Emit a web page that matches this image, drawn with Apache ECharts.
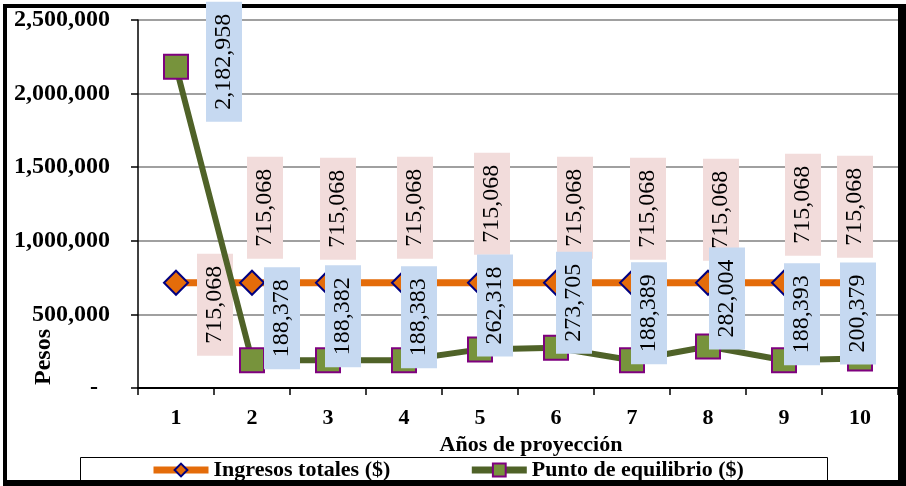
<!DOCTYPE html>
<html>
<head>
<meta charset="utf-8">
<script src="https://cdn.jsdelivr.net/npm/echarts@6/dist/echarts.min.js"></script>
<style>
  html, body { margin: 0; padding: 0; background: #fff; }
  #chart { width: 906px; height: 486px; }
</style>
</head>
<body>
<div id="chart"></div>
<script>
// Años de proyección
const years = ['1', '2', '3', '4', '5', '6', '7', '8', '9', '10'];
// Ingresos totales ($)
const ingresosTotales = [715068, 715068, 715068, 715068, 715068, 715068, 715068, 715068, 715068, 715068];
// Punto de equilibrio ($)
const puntoEquilibrio = [2182958, 188378, 188382, 188383, 262318, 273705, 188389, 282004, 188393, 200379];

// Hand-placed data label nudges, in screen pixels from each point [right, down]
const ingresosLabelShift = [[39, 22], [13, -75], [10, -74], [11, -75], [12, -79], [19, -75], [16, -74], [13, -73], [19, -78], [-5, -76]];
const puntoLabelShift = [[48, -5], [30, -42], [15, -44], [15, -43], [15, -44], [18, -45], [17, -47], [19, -48], [18, -46], [-2, -45]];

const SERIF = '"Liberation Serif", "Times New Roman", serif';
const fmt = v => Math.round(v).toLocaleString('en-US');

// Labels are rotated 90deg, and their offset is applied in the rotated frame,
// so a screen shift (sx, sy) becomes the local offset (-sy, sx).
function labelled(values, shifts) {
  return values.map((v, i) => ({
    value: v,
    label: { offset: [-shifts[i][1], shifts[i][0]] }
  }));
}

const baseLabel = (bg) => ({
  show: true,
  position: 'inside',
  rotate: 90,
  align: 'center',
  verticalAlign: 'middle',
  fontFamily: SERIF,
  fontSize: 24,
  lineHeight: 24,
  color: '#000',
  backgroundColor: bg,
  padding: [6, 12, 6, 12],
  formatter: p => fmt(p.value)
});

const chart = echarts.init(document.getElementById('chart'), null, { renderer: 'canvas' });

chart.setOption({
  animation: false,
  backgroundColor: '#fff',
  grid: { left: 138, right: 8, top: 20, bottom: 98, containLabel: false },
  xAxis: {
    type: 'category',
    data: years,
    boundaryGap: true,
    name: 'Años de proyección',
    nameLocation: 'middle',
    nameGap: 42,
    nameTextStyle: { fontFamily: SERIF, fontWeight: 'bold', fontSize: 22, color: '#000', padding: [0, 0, 0, 26] },
    axisLine: { lineStyle: { color: '#000', width: 2 } },
    axisTick: { show: true, length: 7, inside: false, lineStyle: { color: '#000', width: 1.5 } },
    axisLabel: { margin: 19, fontFamily: SERIF, fontWeight: 'bold', fontSize: 22, color: '#000' },
    splitLine: { show: false }
  },
  yAxis: {
    type: 'value',
    min: 0,
    max: 2500000,
    interval: 500000,
    axisLine: { show: true, lineStyle: { color: '#000', width: 1.5 } },
    axisTick: { show: true, length: 7, inside: false, lineStyle: { color: '#000', width: 1.5 } },
    axisLabel: {
      margin: 28,
      fontFamily: SERIF,
      fontWeight: 'bold',
      fontSize: 24,
      color: '#000',
      formatter: v => (v === 0 ? '-  ' : fmt(v))
    },
    splitLine: { show: true, lineStyle: { color: '#808080', width: 1.5 } }
  },
  legend: {
    left: 80,
    top: 457,
    padding: [2, 52, 0, 70],
    itemGap: 78,
    itemWidth: 55,
    itemHeight: 16,
    lineStyle: { width: 7 },
    textStyle: { fontFamily: SERIF, fontWeight: 'bold', fontSize: 22, color: '#000' },
    data: ['Ingresos totales ($)', 'Punto de equilibrio ($)']
  },
  series: [
    {
      name: 'Ingresos totales ($)',
      type: 'line',
      data: labelled(ingresosTotales, ingresosLabelShift),
      symbol: 'diamond',
      symbolSize: 24,
      lineStyle: { color: '#E46C0A', width: 7 },
      itemStyle: { color: '#E46C0A', borderColor: '#000080', borderWidth: 2 },
      label: baseLabel('#F2DCDB'),
      z: 2
    },
    {
      name: 'Punto de equilibrio ($)',
      type: 'line',
      data: labelled(puntoEquilibrio, puntoLabelShift),
      symbol: 'rect',
      symbolSize: 24,
      lineStyle: { color: '#4F6228', width: 6 },
      itemStyle: { color: '#77933C', borderColor: '#7F007F', borderWidth: 2 },
      label: baseLabel('#C6D9F1'),
      z: 3
    }
  ],
  graphic: [
    {
      type: 'text',
      x: 44, y: 357,
      rotation: Math.PI / 2,
      style: { text: 'Pesos', font: 'bold 24px ' + SERIF, fill: '#000', align: 'center', verticalAlign: 'middle' },
      z: 1
    },
    // legend frame
    { type: 'rect', shape: { x: 80.5, y: 457.5, width: 747, height: 24 }, style: { fill: 'none', stroke: '#000', lineWidth: 1 }, z: 0 },
    // chart frame
    { type: 'rect', shape: { x: 3, y: 4, width: 4, height: 482 }, style: { fill: '#000' }, z: 0 },
    { type: 'rect', shape: { x: 3, y: 4, width: 903, height: 4 }, style: { fill: '#000' }, z: 0 },
    { type: 'rect', shape: { x: 898, y: 4, width: 8, height: 482 }, style: { fill: '#000' }, z: 0 },
    { type: 'rect', shape: { x: 3, y: 480, width: 903, height: 6 }, style: { fill: '#000' }, z: 10 }
  ]
});
</script>
</body>
</html>
